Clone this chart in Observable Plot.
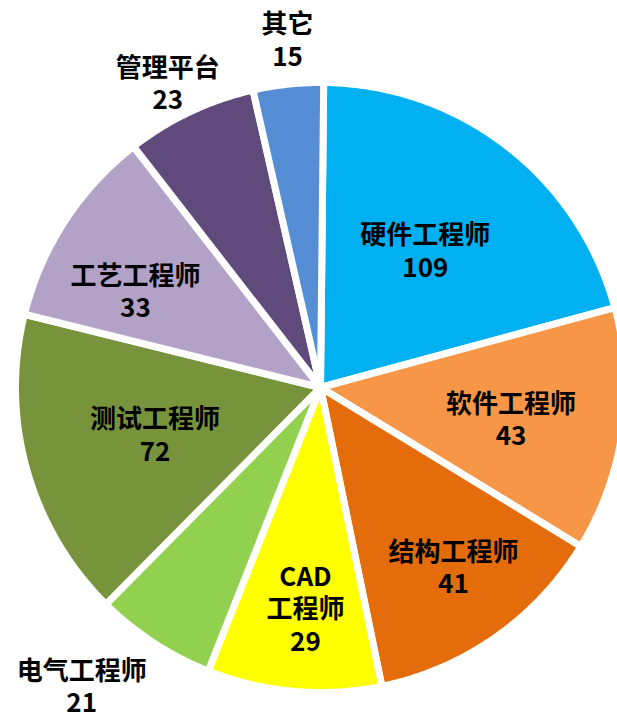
<!DOCTYPE html>
<html>
<head>
<meta charset="utf-8">
<script src="https://cdn.jsdelivr.net/npm/d3@7"></script>
<script src="https://cdn.jsdelivr.net/npm/@observablehq/plot@0.6"></script>
<style>
  html, body { margin: 0; padding: 0; background: #ffffff; }
  #chart svg { display: block; }
</style>
</head>
<body>
<div id="chart"></div>
<script>
// ---- data ----
const categories = ["硬件工程师", "软件工程师", "结构工程师", "CAD\n工程师", "电气工程师", "测试工程师", "工艺工程师", "管理平台", "其它"];
const counts = [109, 43, 41, 29, 21, 72, 33, 23, 15];
// slice sweep as drawn in the reference picture (degrees)
const sliceDegrees = [74.2, 46.6, 47.0, 33.2, 23.1, 59.2, 38.3, 25.0, 13.4];
const colors = ["#00B0F0", "#F79646", "#E46C0A", "#FFFF00", "#92D050", "#77933C", "#B3A2C7", "#604A7B", "#558ED5"];

// ---- layout ----
const W = 617, H = 716;
const cx = 320, cy = 387;      // pie centre in pixels
const R = 305;                 // outer radius (incl. half of white border)
const startAngle = 0.6;        // degrees clockwise from 12 o'clock
const gap = 7;                 // white border width
const fontSize = 26;
const lineHeight = 1.25;
// label placement: [angle (deg, clockwise from top), distance from centre (px)]
const labelPlacement = [
  [37.3, 173], [99.2, 193], [143.4, 223], [183.9, 221], [218.7, 382],
  [254.2, 172], [297.7, 209], [333.4, 341], [354.6, 350]
];

// ---- build slice polygons ----
const rad = d => d * Math.PI / 180;
const slices = [];
let a = startAngle;
sliceDegrees.forEach((deg, i) => {
  const a0 = a, a1 = a + deg;
  a = a1;
  slices.push({k: i, x: 0, y: 0, fill: colors[i]});
  const n = Math.max(2, Math.ceil(deg / 0.5));
  for (let j = 0; j <= n; j++) {
    const t = rad(a0 + (a1 - a0) * j / n);
    slices.push({k: i, x: R * Math.sin(t), y: R * Math.cos(t), fill: colors[i]});
  }
  slices.push({k: i, x: 0, y: 0, fill: colors[i]});
});

// ---- labels (one multi-line text per slice) ----
const labels = categories.map((c, i) => {
  const [ang, dist] = labelPlacement[i];
  return {x: dist * Math.sin(rad(ang)), y: dist * Math.cos(rad(ang)), text: c + "\n" + counts[i]};
});

const chart = Plot.plot({
  width: W,
  height: H,
  margin: 0,
  x: {domain: [-cx, W - cx], range: [0, W], axis: null},
  y: {domain: [cy - H, cy], range: [H, 0], axis: null},
  color: {type: "identity"},
  style: {background: "#ffffff", fontFamily: "'Noto Sans CJK SC', 'Noto Sans', sans-serif"},
  marks: [
    Plot.line(slices, {
      x: "x", y: "y", z: "k", fill: "fill",
      stroke: "#ffffff", strokeWidth: gap, strokeLinejoin: "round", curve: "linear"
    }),
    Plot.text(labels, {
      x: "x", y: "y", text: "text",
      fontSize: fontSize, fontWeight: "bold", fill: "#000000", lineHeight: lineHeight,
      fontFamily: "'Noto Sans CJK SC', 'Noto Sans', sans-serif",
      textAnchor: "middle"
    })
  ]
});
document.getElementById("chart").appendChild(chart);
</script>
</body>
</html>
